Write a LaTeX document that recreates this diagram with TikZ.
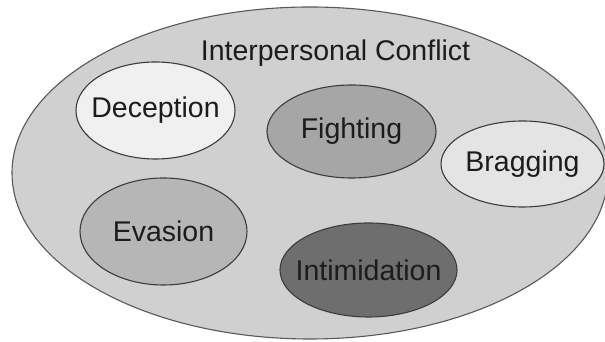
\documentclass[tikz,border=0pt]{standalone}
\usepackage{fontspec}
\setmainfont{Liberation Sans}
\usetikzlibrary{shapes.geometric}

\begin{document}
\begin{tikzpicture}[x=1pt,y=1pt,
  bubble/.style={ellipse,draw=lineColor,line width=1.1pt,inner sep=0pt},
  every label/.style={text=textColor,inner sep=0pt,
    font=\fontsize{28.5}{34}\selectfont},
  title/.style={text=textColor,anchor=base,inner sep=0pt,outer sep=0pt,
    font=\fontsize{28.5}{34}\selectfont}]
\definecolor{lineColor}{RGB}{60,60,60}
\definecolor{textColor}{RGB}{28,28,28}
\definecolor{outerFill}{RGB}{208,208,208}
\definecolor{decepFill}{RGB}{240,240,240}
\definecolor{fightFill}{RGB}{166,166,166}
\definecolor{bragFill}{RGB}{228,228,228}
\definecolor{evasFill}{RGB}{182,182,182}
\definecolor{intimFill}{RGB}{110,110,110}
\path[use as bounding box,fill=white] (0,0) rectangle (605,342);
\begin{scope}
\path[clip] (0,0) rectangle (605,342);

\node[bubble,draw=lineColor!85,fill=outerFill,minimum width=596,minimum height=332] (conflict) at (310,169) {};

\node[title] (conflictname) at (335.5,281) {Interpersonal Conflict};

\node[bubble,fill=decepFill,minimum width=159,minimum height=97,label=center:Deception] (deception) at (155.5,231.5) {};

\node[bubble,fill=fightFill,minimum width=169,minimum height=93,label=center:Fighting] (fighting) at (351.5,210.5) {};

\node[bubble,fill=bragFill,minimum width=163,minimum height=86,label=center:Bragging] (bragging) at (522.5,178) {};

\node[bubble,fill=evasFill,minimum width=167,minimum height=107,label=center:Evasion] (evasion) at (163.5,110.5) {};

\node[bubble,fill=intimFill,minimum width=177,minimum height=94,label=center:Intimidation] (intimidation) at (368.5,72) {};
\end{scope}
\end{tikzpicture}
\end{document}
